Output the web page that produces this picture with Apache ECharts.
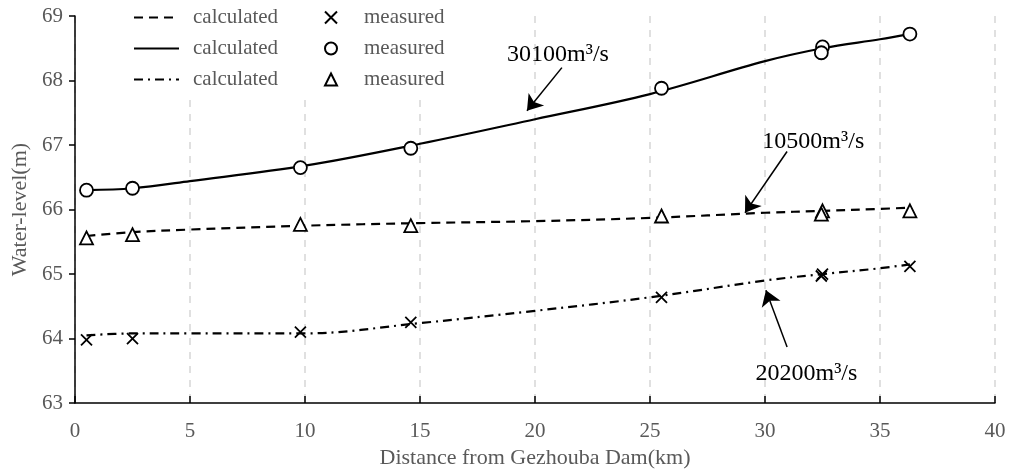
<!DOCTYPE html>
<html>
<head>
<meta charset="utf-8">
<script src="https://cdn.jsdelivr.net/npm/echarts@6/dist/echarts.min.js"></script>
<style>
  html, body { margin: 0; padding: 0; background: #fff; }
  #chart { width: 1011px; height: 474px; }
</style>
</head>
<body>
<div id="chart"></div>
<script>
// Computed water-level profiles (m) at distances downstream of the dam (km)
const calcKm    = [0.5, 2.5, 5, 10, 15, 20, 25, 30, 32.5, 35, 36.3];
const calc10500 = [65.59, 65.65, 65.69, 65.75, 65.79, 65.82, 65.87, 65.95, 65.98, 66.01, 66.03];
const calc30100 = [66.30, 66.33, 66.44, 66.68, 67.02, 67.40, 67.79, 68.30, 68.50, 68.64, 68.72];
const calc20200 = [64.05, 64.08, 64.08, 64.08, 64.24, 64.43, 64.64, 64.90, 65.00, 65.09, 65.15];

// Gauged water levels (m) at the observation stations (km)
const measKm    = [0.5, 2.5, 9.8, 14.6, 25.5, 32.5, 32.45, 36.3];
const meas20200 = [63.98, 64.00, 64.10, 64.25, 64.64, 65.00, 64.97, 65.12];
const meas30100 = [66.30, 66.33, 66.65, 66.95, 67.88, 68.52, 68.43, 68.72];
const meas10500 = [65.56, 65.61, 65.77, 65.75, 65.90, 65.98, 65.93, 65.98];

// Axis ranges
const xRange = [0, 40, 5];
const yRange = [63, 69, 1];

// Discharge labels: text, where the text sits, and the arrow (from -> to), in data units
const notes = [
  { text: '30100m³/s', at: [21.0, 68.40], from: [21.17, 68.20], to: [19.65, 67.53] },
  { text: '10500m³/s', at: [32.1, 67.05], from: [30.96, 66.90], to: [29.13, 65.95] },
  { text: '20200m³/s', at: [31.8, 63.45], from: [30.96, 63.87], to: [30.04, 64.75] }
];

const zip = (xs, ys) => xs.map((x, i) => [x, ys[i]]);
const FONT = '"Liberation Serif", "Times New Roman", serif';
const GREY = '#595959';

function calcSeries(name, values, dash) {
  return {
    name: name,
    type: 'line',
    data: zip(calcKm, values),
    smooth: 0.35,
    symbol: 'none',
    lineStyle: { color: '#000', width: 2.2, type: dash },
    itemStyle: { color: '#000' },
    z: 3
  };
}

function measSeries(name, values, symbol, size) {
  return {
    name: name,
    type: 'scatter',
    data: zip(measKm, values),
    symbol: symbol,
    symbolSize: size,
    itemStyle: { color: '#fff', borderColor: '#000', borderWidth: 1.8, opacity: 1 },
    z: 5
  };
}

const crossPath = 'path://M0,0L10,10M10,0L0,10';

const series = [
  calcSeries('calc10500', calc10500, [9, 6]),
  calcSeries('calc30100', calc30100, 'solid'),
  calcSeries('calc20200', calc20200, [9, 5, 2, 5]),
  measSeries('meas20200', meas20200, crossPath, 11),
  measSeries('meas30100', meas30100, 'circle', 13),
  measSeries('meas10500', meas10500, 'triangle', 13)
];
series[3].itemStyle.color = 'transparent';

// Arrows and discharge labels
series.push({
  name: 'notes',
  type: 'line',
  data: [],
  silent: true,
  markLine: {
    silent: true,
    animation: false,
    symbol: ['none', 'arrow'],
    symbolSize: 15,
    label: { show: false },
    lineStyle: { color: '#000', width: 1.5, type: 'solid' },
    emphasis: { disabled: true },
    data: notes.map(n => [{ coord: n.from }, { coord: n.to }])
  },
  markPoint: {
    silent: true,
    animation: false,
    symbol: 'circle',
    symbolSize: 0,
    itemStyle: { color: 'transparent' },
    label: {
      show: true, position: 'inside', formatter: '{b}',
      color: '#000', fontSize: 24, fontFamily: FONT
    },
    data: notes.map(n => ({ name: n.text, coord: n.at }))
  }
});

const legendCommon = {
  orient: 'vertical',
  top: 2,
  itemGap: 10,
  selectedMode: false,
  textStyle: { color: GREY, fontSize: 21, fontFamily: FONT }
};

const option = {
  animation: false,
  backgroundColor: '#fff',
  grid: { left: 75, right: 16, top: 16, bottom: 67 },
  legend: [
    Object.assign({}, legendCommon, {
      left: 128,
      data: ['calc10500', 'calc30100', 'calc20200'],
      itemWidth: 45,
      itemHeight: 14,
      itemStyle: { opacity: 0 },
      formatter: () => 'calculated',
      textStyle: Object.assign({}, legendCommon.textStyle, { padding: [0, 0, 0, 9] })
    }),
    Object.assign({}, legendCommon, {
      left: 319,
      data: ['meas20200', 'meas30100', 'meas10500'],
      itemWidth: 12,
      itemHeight: 12,
      formatter: () => 'measured',
      textStyle: Object.assign({}, legendCommon.textStyle, { padding: [0, 0, 0, 22] })
    })
  ],
  graphic: [{
    type: 'rect', z: 3, silent: true,
    shape: { x: 120, y: 0, width: 340, height: 94 },
    style: { fill: '#fff' }
  }],
  xAxis: {
    type: 'value',
    min: xRange[0], max: xRange[1], interval: xRange[2],
    name: 'Distance from Gezhouba Dam(km)',
    nameLocation: 'middle',
    nameGap: 43,
    nameTextStyle: { color: GREY, fontSize: 22, fontFamily: FONT },
    axisLine: { lineStyle: { color: '#000', width: 1.5 } },
    axisTick: { inside: true, length: 7, lineStyle: { color: '#000', width: 1.5 } },
    axisLabel: { color: GREY, fontSize: 21, fontFamily: FONT, margin: 18, showMinLabel: true, showMaxLabel: true },
    splitLine: { show: true, lineStyle: { color: '#d6d6d6', width: 1.5, type: [7, 7] } }
  },
  yAxis: {
    type: 'value',
    min: yRange[0], max: yRange[1], interval: yRange[2],
    name: 'Water-level(m)',
    nameLocation: 'middle',
    nameGap: 44,
    nameTextStyle: { color: GREY, fontSize: 22, fontFamily: FONT },
    axisLine: { show: true, lineStyle: { color: '#000', width: 1.5 } },
    axisTick: { show: true, length: 6, lineStyle: { color: '#000', width: 1.5 } },
    axisLabel: { color: GREY, fontSize: 21, fontFamily: FONT, margin: 12 },
    splitLine: { show: false }
  },
  series: series
};

const chart = echarts.init(document.getElementById('chart'), null, { renderer: 'canvas' });
chart.setOption(option);
</script>
</body>
</html>
